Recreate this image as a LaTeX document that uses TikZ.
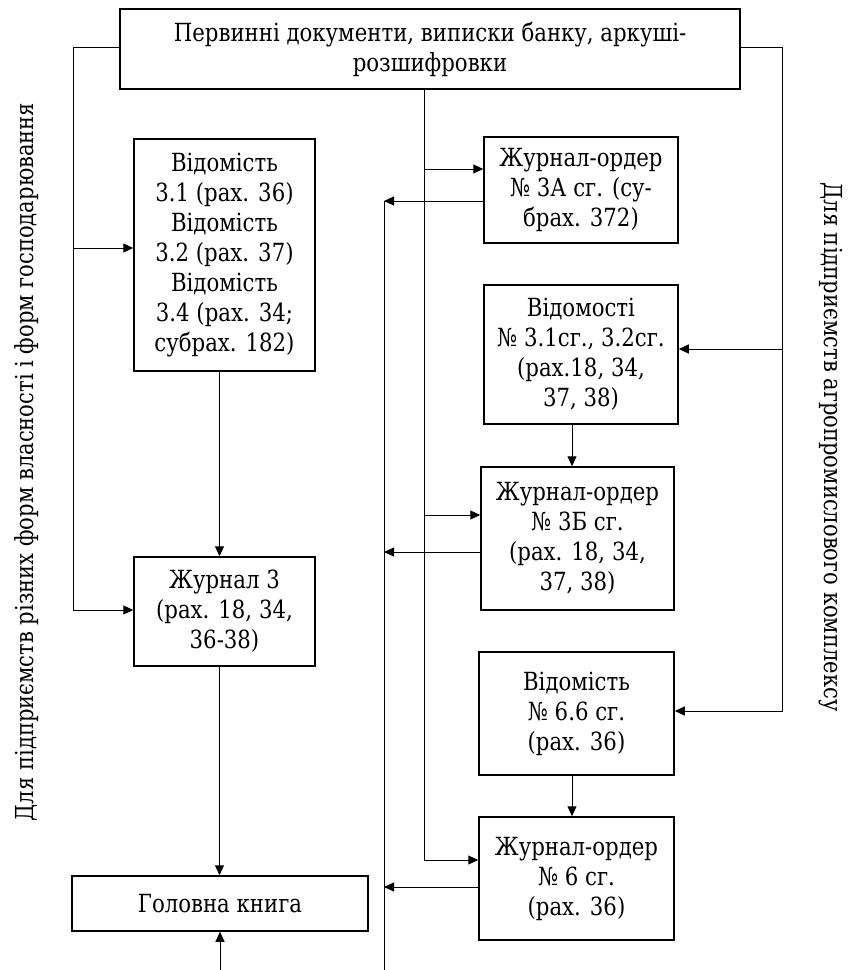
\documentclass[tikz,border=0pt]{standalone}
\usepackage{fontspec}
\setmainfont{DejaVu Serif}[FakeStretch=0.85]
\usetikzlibrary{arrows.meta}

\begin{document}
\begin{tikzpicture}[x=0.5pt, y=-0.5pt,
	box/.style={draw, line width=0.75pt, align=center, inner sep=0pt, font=\fontsize{12.5}{15}\selectfont},
	arr/.style={-{Triangle[length=5pt,width=4.5pt]}, line width=0.5pt},
	lbl/.style={inner sep=0pt, font=\fontsize{12.4}{16}\selectfont}]
	\useasboundingbox (0,0) rectangle (847,970);
	
	\coordinate (L) at (73,47);
	\coordinate (L1) at (73,248);
	\coordinate (L2) at (73,610);
	\coordinate (R) at (782,47);
	\coordinate (R1) at (782,349);
	\coordinate (R2) at (782,711);
	\coordinate (M) at (424,47);
	\coordinate (M1) at (424,169);
	\coordinate (M2) at (424,515);
	\coordinate (M3) at (424,860);
	\coordinate (C1) at (384,201);
	\coordinate (C2) at (384,552);
	\coordinate (C3) at (384,887);
	\coordinate (C4) at (384,970);
	\coordinate (G) at (220,970);
	\coordinate (XL) at (219.5,0);
	\coordinate (XR) at (572,0);
	
	\node[box, minimum width=310pt, minimum height=40pt] (src) at (430,49) {Первинні документи, виписки банку, аркуші-\\розшифровки};
	\node[box, minimum width=90.5pt, minimum height=116pt] (ved) at (224.5,255) {Відомість\\3.1 (рах. 36)\\Відомість\\3.2 (рах. 37)\\Відомість\\3.4 (рах. 34;\\субрах. 182)};
	\node[box, minimum width=90.5pt, minimum height=54.5pt] (jur3) at (224.5,611.5) {Журнал 3\\(рах. 18, 34,\\36-38)};
	\node[box, minimum width=148pt, minimum height=27.5pt] (gk) at (220,903.5) {Головна книга};
	\node[box, minimum width=97pt, minimum height=53pt] (jo3a) at (581,190) {Журнал-ордер\\№ 3А сг. (су-\\брах. 372)};
	\node[box, minimum width=97pt, minimum height=69.5pt] (ved31) at (581,354.5) {Відомості\\№ 3.1сг., 3.2сг.\\(рах.18, 34,\\37, 38)};
	\node[box, minimum width=96.5pt, minimum height=71.5pt] (jo3b) at (577.5,538.5) {Журнал-ордер\\№ 3Б сг.\\(рах. 18, 34,\\37, 38)};
	\node[box, minimum width=97.5pt, minimum height=61.5pt] (ved66) at (576.5,713.5) {Відомість\\№ 6.6 сг.\\(рах. 36)};
	\node[box, minimum width=97.5pt, minimum height=61.5pt] (jo6) at (576.5,878.5) {Журнал-ордер\\№ 6 сг.\\(рах. 36)};
	
	\node[lbl, rotate=90, anchor=base] (own) at (33,462) {Для підприємств різних форм власності і форм господарювання};
	\node[lbl, rotate=-90, anchor=base] (agro) at (824,447) {Для підприємств агропромислового комплексу};
	
	\draw[arr] (src.west |- L) -- (L) -- (L2) -- (L2 -| jur3.west);
	\draw[arr] (L1) -- (L1 -| ved.west);
	
	\draw[arr] (src.east |- R) -- (R) -- (R2) -- (R2 -| ved66.east);
	\draw[arr] (R1) -- (R1 -| ved31.east);
	
	\draw[arr] (src.south -| M) -- (M3) -- (M3 -| jo6.west);
	\draw[arr] (M1) -- (M1 -| jo3a.west);
	\draw[arr] (M2) -- (M2 -| jo3b.west);
	
	\draw[line width=0.5pt] (C1) -- (C4);
	\draw[arr] (C1 -| jo3a.west) -- (C1);
	\draw[arr] (C2 -| jo3b.west) -- (C2);
	\draw[arr] (C3 -| jo6.west) -- (C3);
	
	\draw[arr] (ved.south -| XL) -- (jur3.north -| XL);
	\draw[arr] (jur3.south -| XL) -- (gk.north -| XL);
	\draw[arr] (G) -- (G |- gk.south);
	
	\draw[arr] (ved31.south -| XR) -- (jo3b.north -| XR);
	\draw[arr] (ved66.south -| XR) -- (jo6.north -| XR);
\end{tikzpicture}
\end{document}
